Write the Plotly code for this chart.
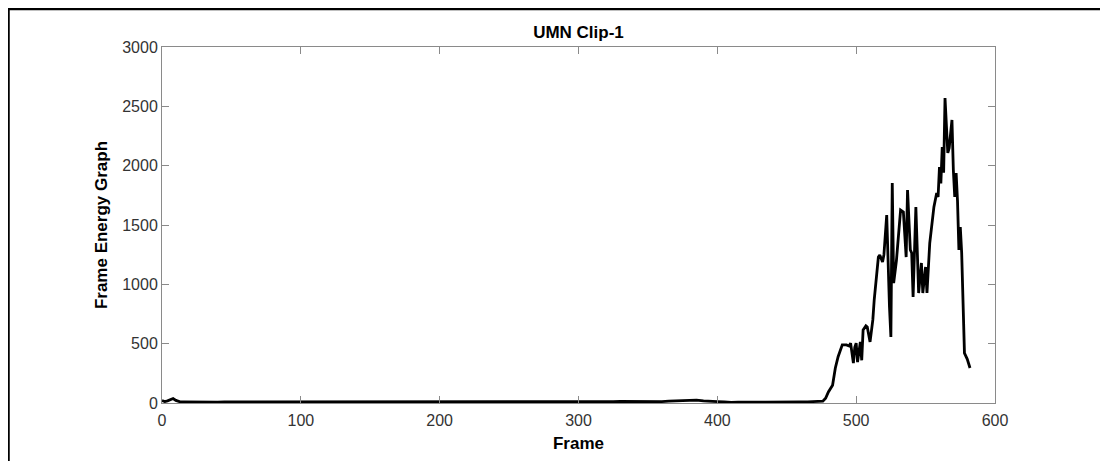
import plotly.graph_objects as go

# Frame indices and frame energy values
frames = [0, 2, 4, 6, 8, 10, 13, 16, 20, 25, 30, 35, 40, 45, 50, 55, 60, 65, 70, 75, 80,
          85, 90, 95, 100, 105, 110, 115, 120, 125, 130, 135, 140, 145, 150, 155, 160,
          165, 170, 175, 180, 185, 190, 195, 200, 205, 210, 215, 220, 225, 230, 235, 240,
          245, 250, 255, 260, 265, 270, 275, 280, 285, 290, 295, 300, 305, 310, 315, 320,
          325, 330, 335, 340, 345, 350, 355, 360, 365, 370, 375, 380, 385, 390, 395, 400,
          405, 410, 415, 420, 425, 430, 435, 440, 445, 450, 455, 460, 465, 470, 474,
          476, 478, 480, 483, 485, 487, 490, 493, 495, 496, 498, 499, 500, 501, 503, 504,
          505, 507, 508, 510, 512, 513, 515, 516, 517, 519, 520, 522, 524, 525, 526, 527,
          529, 530, 532, 534, 536, 537, 539, 540, 541, 543, 545, 547, 548, 550, 551, 553,
          556, 558, 559, 560, 561, 562, 563, 564, 565, 566, 567, 569, 570, 571, 572, 573,
          574, 575, 576, 578, 580, 582]
energy = [20, 12, 18, 30, 38, 22, 10, 9, 8, 7, 6, 8, 7, 9, 9, 8, 8, 10, 12, 11, 10,
          8, 9, 11, 12, 9, 8, 10, 10, 8, 7, 9, 11, 10, 9, 8, 8,
          7, 6, 8, 9, 10, 10, 8, 8, 7, 7, 9, 9, 10, 10, 8, 8,
          7, 6, 8, 9, 8, 8, 10, 11, 9, 9, 10, 10, 11, 12, 10, 9,
          12, 14, 13, 13, 15, 15, 14, 12, 16, 18, 20, 22, 25, 18, 12, 12,
          10, 5, 7, 9, 9, 8, 8, 7, 6, 6, 7, 9, 10, 12, 15,
          15, 40, 93, 150, 295, 390, 490, 490, 480, 505, 337, 470, 505, 345, 515, 360,
          615, 650, 640, 515, 700, 870, 1150, 1230, 1247, 1188, 1250, 1584, 809, 556, 1854, 1011,
          1200, 1348, 1626, 1610, 1230, 1795, 1290, 1264, 893, 1652, 927, 1180, 927, 1146, 927, 1348,
          1652, 1770, 1736, 1989, 1850, 2157, 1940, 2570, 2330, 2107, 2150, 2385, 1963, 1736, 1938, 1700,
          1290, 1483, 1264, 420, 370, 295]

x_ticks = [0, 100, 200, 300, 400, 500, 600]
y_ticks = [0, 500, 1000, 1500, 2000, 2500, 3000]

FONT = "Liberation Sans, Arial, sans-serif"
AXIS_GRAY = "#8a8a8a"
TEXT = "#333333"

fig = go.Figure()
fig.add_trace(go.Scatter(x=frames, y=energy, mode="lines",
                         line=dict(color="black", width=2.8), showlegend=False))

# The page body adds an 8px offset; figure coordinates = page coordinates - 8
OFF = 8
W, H = 1108 - OFF, 461 - OFF
L, R, T, B = 162 - OFF, 995 - OFF, 47 - OFF, 403 - OFF
pw, ph = R - L, B - T

def px(xp):
    return (xp - L) / pw

def py(yp):
    return (B - yp) / ph

fig.update_layout(
    width=W, height=H,
    margin=dict(l=L, r=W - R, t=T, b=H - B, autoexpand=False),
    paper_bgcolor="white", plot_bgcolor="white",
    font=dict(family=FONT, color=TEXT, size=16),
    title=dict(text="<b>UMN Clip-1</b>", x=0.5 * (L + R) / W, xanchor="center",
               y=1 - (32 - OFF) / H, yanchor="middle", yref="container",
               font=dict(family=FONT, size=17, color="black")),
    xaxis=dict(range=[0, 600], tickvals=x_ticks, ticks="inside", ticklen=7,
               tickcolor=AXIS_GRAY, tickwidth=1, showline=True, linecolor=AXIS_GRAY,
               linewidth=1, mirror="ticks", showgrid=False, zeroline=False,
               tickfont=dict(size=16, color=TEXT), ticklabelstandoff=3, automargin=False,
               title=dict(text="<b>Frame</b>", font=dict(size=17, color="black"), standoff=8)),
    yaxis=dict(range=[0, 3000], tickvals=y_ticks, ticks="inside", ticklen=7,
               tickcolor=AXIS_GRAY, tickwidth=1, showline=True, linecolor=AXIS_GRAY,
               linewidth=1, mirror="ticks", showgrid=False, zeroline=False,
               tickfont=dict(size=16, color=TEXT), automargin=False,
               title=dict(text="<b>Frame Energy Graph</b>", font=dict(size=17, color="black"),
                          standoff=10)),
    shapes=[
        dict(type="line", xref="paper", yref="paper", x0=px(-1), x1=px(W + 2),
             y0=py(1), y1=py(1), line=dict(color="black", width=2.5)),
        dict(type="line", xref="paper", yref="paper", x0=px(0.5), x1=px(0.5),
             y0=py(-1), y1=py(H + 2), line=dict(color="black", width=2.5)),
    ],
)

fig.write_html("out.html")
